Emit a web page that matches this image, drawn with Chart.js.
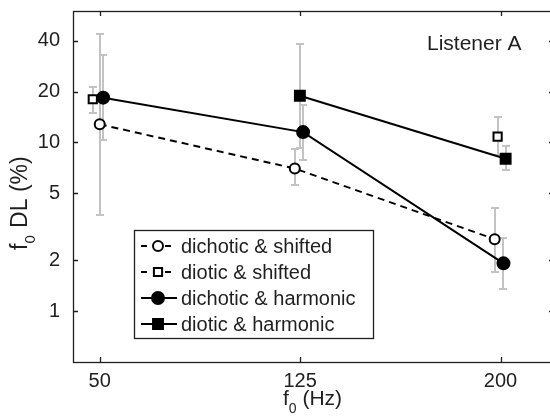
<!DOCTYPE html>
<html>
<head>
<meta charset="utf-8">
<script src="https://cdn.jsdelivr.net/npm/chart.js@4.4.0/dist/chart.umd.min.js"></script>
<style>
  html, body { margin: 0; padding: 0; background: #fff; }
</style>
</head>
<body>
<canvas id="chart" width="550" height="417"></canvas>
<script>
const freqTicks = [50, 125, 200];
const dlTicks = [1, 2, 5, 10, 20, 40];

// x = f0 in Hz (nudged a little per condition, as in the figure), y = f0 DL in %
const dichShiftX = [50, 123, 197.8];
const dichShiftY = [12.8, 7.0, 2.67];
const dichShiftLo = [3.7, 5.6, 1.71];
const dichShiftHi = [43.7, 9.1, 4.1];

const dioShiftX = [47.4, 125, 198.9];
const dioShiftY = [18, null, 10.8];
const dioShiftLo = [15.0, null, 8.4];
const dioShiftHi = [21.3, null, 14.2];

const dichHarmX = [51.3, 126.1, 201.1];
const dichHarmY = [18.4, 11.5, 1.92];
const dichHarmLo = [10.3, 7.9, 1.35];
const dichHarmHi = [32.9, 16.6, 2.7];

const dioHarmX = [50, 124.9, 201.9];
const dioHarmY = [null, 18.9, 8.0];
const dioHarmLo = [null, 9.3, 6.85];
const dioHarmHi = [null, 38.5, 9.5];

const FONT = '"Liberation Sans", Arial, sans-serif';
const INK = '#1f1f1f';

const series = [
  { label: 'dichotic & shifted', x: dichShiftX, y: dichShiftY, lo: dichShiftLo, hi: dichShiftHi, dash: [7, 5], style: 'circle', filled: false, r: 5 },
  { label: 'diotic & shifted', x: dioShiftX, y: dioShiftY, lo: dioShiftLo, hi: dioShiftHi, dash: [7, 5], style: 'rect', filled: false, r: 5.8 },
  { label: 'dichotic & harmonic', x: dichHarmX, y: dichHarmY, lo: dichHarmLo, hi: dichHarmHi, dash: [], style: 'circle', filled: true, r: 6 },
  { label: 'diotic & harmonic', x: dioHarmX, y: dioHarmY, lo: dioHarmLo, hi: dioHarmHi, dash: [], style: 'rect', filled: true, r: 7 }
];

function marker(ctx, s, cx, cy) {
  ctx.save();
  ctx.setLineDash([]);
  ctx.lineWidth = 2;
  ctx.strokeStyle = '#000';
  ctx.fillStyle = s.filled ? '#000' : '#fff';
  ctx.beginPath();
  if (s.style === 'circle') {
    ctx.arc(cx, cy, s.r, 0, Math.PI * 2);
  } else {
    const h = s.r * Math.SQRT1_2;
    ctx.rect(cx - h, cy - h, 2 * h, 2 * h);
  }
  ctx.fill();
  ctx.stroke();
  ctx.restore();
}

// pin the plot box where the original figure has it (right edge runs just past the canvas)
const fixArea = {
  id: 'fixArea',
  afterLayout(chart) {
    const a = chart.chartArea, { x, y } = chart.scales;
    a.left = 73; a.right = 554; a.top = 11; a.bottom = 362;
    a.width = a.right - a.left; a.height = a.bottom - a.top;
    Object.assign(x, { left: a.left, right: a.right, width: a.width, top: a.bottom, bottom: 417, height: 417 - a.bottom });
    Object.assign(y, { left: 0, right: a.left, width: a.left, top: a.top, bottom: a.bottom, height: a.height });
    x.configure(); y.configure();
  }
};

const errBars = {
  id: 'errBars',
  beforeDatasetsDraw(chart) {
    const { ctx, scales: { x, y } } = chart;
    ctx.save();
    ctx.strokeStyle = '#c3c3c3';
    ctx.lineWidth = 2;
    series.forEach(s => {
      s.x.forEach((xv, i) => {
        if (s.lo[i] == null) return;
        const px = Math.round(x.getPixelForValue(xv));
        const top = Math.round(y.getPixelForValue(s.hi[i]));
        const bot = Math.round(y.getPixelForValue(s.lo[i]));
        ctx.beginPath();
        ctx.moveTo(px, top); ctx.lineTo(px, bot);
        ctx.moveTo(px - 4, top); ctx.lineTo(px + 4, top);
        ctx.moveTo(px - 4, bot); ctx.lineTo(px + 4, bot);
        ctx.stroke();
      });
    });
    ctx.restore();
  }
};

const decor = {
  id: 'decor',
  afterDraw(chart) {
    const { ctx, chartArea: a, scales: { x, y } } = chart;
    ctx.save();
    // box + inward ticks
    ctx.strokeStyle = INK;
    ctx.lineWidth = 1.3;
    ctx.strokeRect(a.left + 0.5, a.top + 0.5, a.right - a.left, a.bottom - a.top);
    ctx.beginPath();
    freqTicks.forEach(v => {
      const px = Math.round(x.getPixelForValue(v)) + 0.5;
      ctx.moveTo(px, a.bottom); ctx.lineTo(px, a.bottom - 5);
      ctx.moveTo(px, a.top); ctx.lineTo(px, a.top + 5);
    });
    dlTicks.forEach(v => {
      const py = Math.round(y.getPixelForValue(v)) + 0.5;
      ctx.moveTo(a.left, py); ctx.lineTo(a.left + 5, py);
      ctx.moveTo(a.right, py); ctx.lineTo(a.right - 5, py);
    });
    ctx.stroke();

    // legend
    ctx.fillStyle = '#fff';
    ctx.fillRect(134, 230, 239, 109);
    ctx.lineWidth = 1.3;
    ctx.strokeRect(134.5, 230.5, 239, 108);
    ctx.font = '20px ' + FONT;
    ctx.textBaseline = 'middle';
    ctx.textAlign = 'left';
    series.forEach((s, i) => {
      const cy = 246 + i * 26;
      ctx.strokeStyle = '#000';
      ctx.lineWidth = 2;
      ctx.setLineDash(s.dash.length ? [6, 6] : []);
      ctx.beginPath();
      ctx.moveTo(141, cy); ctx.lineTo(177, cy);
      ctx.stroke();
      ctx.setLineDash([]);
      marker(ctx, s, 158, cy);
      ctx.fillStyle = INK;
      ctx.fillText(s.label, 181, cy + 1);
    });

    // panel label
    ctx.textBaseline = 'alphabetic';
    ctx.font = '21px ' + FONT;
    ctx.fillText('Listener A', 427, 50);

    // axis titles with subscript 0
    let big = '21px ' + FONT, small = '14px ' + FONT;
    ctx.font = big;
    let cx = 283;
    ctx.fillText('f', cx, 405); cx += ctx.measureText('f').width;
    ctx.font = small;
    ctx.fillText('0', cx, 413); cx += ctx.measureText('0').width;
    ctx.font = big;
    ctx.fillText(' (Hz)', cx, 405);

    big = '23px ' + FONT; small = '15px ' + FONT;
    ctx.translate(27, 250);
    ctx.rotate(-Math.PI / 2);
    cx = 0;
    ctx.font = big;
    ctx.fillText('f', cx, 0); cx += ctx.measureText('f').width;
    ctx.font = small;
    ctx.fillText('0', cx, 8); cx += ctx.measureText('0').width + 1;
    ctx.font = big;
    ctx.fillText(' DL (%)', cx, 0);
    ctx.restore();
  }
};

const datasets = series.map((s, i) => ({
  label: s.label,
  data: s.x.map((xv, j) => ({ x: xv, y: s.y[j] })),
  borderColor: '#000',
  borderWidth: 2,
  borderDash: s.dash,
  backgroundColor: s.filled ? '#000' : '#fff',
  pointStyle: s.style,
  pointRadius: s.r,
  pointBorderWidth: 2,
  pointBorderColor: '#000',
  pointBackgroundColor: s.filled ? '#000' : '#fff',
  spanGaps: false,
  tension: 0,
  order: 4 - i
}));

new Chart(document.getElementById('chart'), {
  type: 'line',
  data: { datasets },
  plugins: [fixArea, errBars, decor],
  options: {
    responsive: false,
    animation: false,
    devicePixelRatio: 1,
    layout: { padding: { left: 0, top: 11, right: 0, bottom: 0 } },
    plugins: { legend: { display: false }, tooltip: { enabled: false } },
    scales: {
      x: {
        type: 'linear',
        min: 40, max: 220,
        grid: { display: false },
        border: { display: false },
        afterBuildTicks: s => { s.ticks = freqTicks.map(v => ({ value: v })); },
        afterFit: s => { s.height = 55; },
        ticks: { color: INK, padding: -1, font: { family: FONT, size: 20 } }
      },
      y: {
        type: 'logarithmic',
        min: 0.5, max: 60,
        grid: { display: false },
        border: { display: false },
        afterBuildTicks: s => { s.ticks = dlTicks.map(v => ({ value: v })); },
        afterFit: s => { s.width = 73; },
        ticks: { color: INK, padding: 5, font: { family: FONT, size: 20 }, callback: v => String(v) }
      }
    }
  }
});
</script>
</body>
</html>
